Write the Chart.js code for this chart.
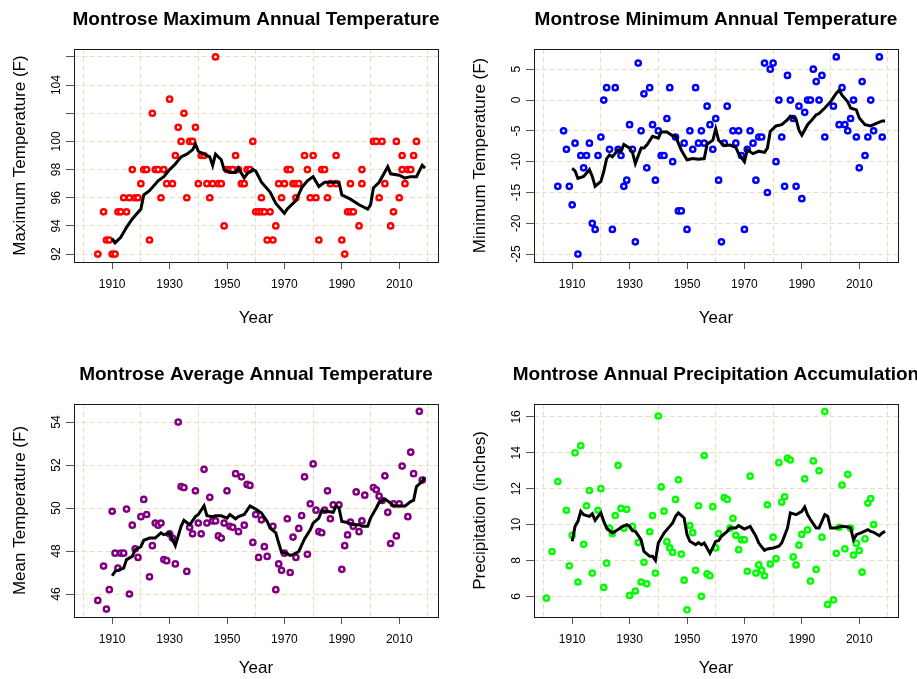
<!DOCTYPE html>
<html>
<head>
<meta charset="utf-8">
<title>Montrose annual climate</title>
<script src="https://cdn.jsdelivr.net/npm/chart.js@4.4.0/dist/chart.umd.min.js"></script>
<style>
  body { margin: 0; background: #fff; }
  #wrap { position: relative; width: 917px; height: 679px; overflow: hidden; }
  canvas { position: absolute; }
</style>
</head>
<body>
<div id="wrap">
  <canvas id="maxChart" width="459" height="340" style="left:0;top:0"></canvas>
  <canvas id="minChart" width="457" height="340" style="left:460px;top:0"></canvas>
  <canvas id="meanChart" width="459" height="339" style="left:0;top:340px"></canvas>
  <canvas id="precipChart" width="457" height="339" style="left:460px;top:340px"></canvas>
</div>
<script>
// x axis: grid every 20 yrs, labelled ticks in between (like the R plot)
var yearGrid = [1900, 1910, 1920, 1930, 1940, 1950, 1960, 1970, 1980, 1990, 2000, 2010, 2020];
var yearLabels = [1910, 1930, 1950, 1970, 1990, 2010];

// ---- maximum temperature ----
var maxYears = [1905, 1907, 1908, 1909, 1910, 1911, 1912, 1913, 1914, 1915, 1916, 1917, 1918, 1919,
    1920, 1921, 1922, 1923, 1924, 1925, 1926, 1927, 1928, 1929,
    1930, 1931, 1932, 1933, 1934, 1935, 1936, 1937, 1938, 1939,
    1940, 1941, 1942, 1943, 1944, 1945, 1946, 1947, 1948, 1949,
    1950, 1951, 1952, 1953, 1954, 1955, 1956, 1957, 1958, 1959,
    1960, 1961, 1962, 1962, 1963, 1964, 1965, 1966, 1967, 1968, 1969,
    1970, 1971, 1972, 1973, 1974, 1974, 1975, 1977, 1978, 1979,
    1980, 1981, 1982, 1983, 1984, 1985, 1986, 1988, 1988,
    1990, 1991, 1992, 1993, 1993, 1994, 1996, 1997, 1997,
    2001, 2002, 2003, 2004, 2005, 2007, 2008, 2009,
    2010, 2011, 2011, 2012, 2013, 2014, 2015, 2016];
var maxTemps = [92, 95, 93, 93, 92, 92, 95, 95, 96, 95, 96, 98, 96, 96,
    97, 98, 98, 93, 102, 98, 98, 96, 98, 97,
    103, 97, 99, 101, 100, 102, 96, 100, 100, 101,
    97, 99, 99, 97, 96, 97, 106, 97, 97, 94,
    98, 98, 98, 99, 98, 97, 97, 98, 98, 100,
    95, 95, 95, 96, 95, 93, 95, 93, 94, 97, 96,
    97, 98, 98, 97, 96, 97, 97, 99, 98, 96,
    99, 96, 93, 98, 98, 96, 97, 97, 99,
    93, 92, 95, 95, 97, 95, 94, 97, 98,
    100, 100, 96, 100, 97, 94, 95, 100,
    96, 99, 98, 97, 98, 98, 99, 100];
var maxAvgYears = [1910, 1911, 1913, 1915, 1917, 1920, 1921, 1923, 1926, 1928, 1930, 1932, 1934, 1936, 1938, 1939,
    1940, 1942, 1944, 1945, 1946, 1948, 1949, 1951, 1953, 1954, 1956, 1957, 1959, 1960, 1962, 1965, 1967,
    1970, 1971, 1974, 1976, 1978, 1980, 1982, 1984, 1987, 1989, 1990, 1993, 1996, 1999,
    2000, 2001, 2003, 2006, 2007, 2010, 2012, 2014, 2016, 2018, 2019];
var maxAvgTemps = [93.1, 92.8, 93.2, 93.9, 94.5, 95.2, 96.2, 96.5, 97.2, 97.5, 98.0, 98.4, 98.9, 99.1, 99.4, 99.8,
    99.3, 99.1, 98.9, 98.3, 99.1, 98.7, 98.0, 97.8, 97.8, 98.1, 97.4, 97.7, 98.0, 97.9, 97.1, 96.4, 95.6,
    94.9, 95.2, 95.8, 96.7, 97.2, 97.5, 96.8, 97.1, 97.1, 97.1, 96.2, 95.9, 95.5, 95.2,
    95.5, 96.7, 97.1, 98.2, 97.7, 97.6, 97.4, 97.5, 97.5, 98.3, 98.1];
var maxGrid = [92, 94, 96, 98, 100, 102, 104, 106];
var maxLabels = [92, 94, 96, 98, 100, 104];

// ---- minimum temperature ----
var minYears = [1905, 1907, 1908, 1909, 1910, 1911, 1912, 1913, 1914, 1915, 1916, 1917, 1918, 1919,
    1920, 1921, 1922, 1923, 1924, 1925, 1926, 1927, 1928, 1929,
    1930, 1931, 1932, 1933, 1934, 1935, 1936, 1937, 1938, 1939,
    1940, 1941, 1942, 1943, 1944, 1945, 1946, 1947, 1948, 1949,
    1950, 1951, 1952, 1953, 1954, 1955, 1956, 1957, 1958, 1959,
    1960, 1961, 1962, 1963, 1964, 1966, 1967, 1968, 1969,
    1970, 1971, 1972, 1973, 1974, 1975, 1976, 1977, 1978, 1979,
    1980, 1981, 1982, 1983, 1984, 1985, 1986, 1987, 1988, 1989,
    1990, 1991, 1992, 1993, 1994, 1995, 1996, 1997, 1998,
    2001, 2002, 2003, 2004, 2005, 2006, 2007, 2008, 2009,
    2010, 2011, 2012, 2013, 2014, 2015, 2017, 2018];
var minTemps = [-14, -5, -8, -14, -17, -7, -25, -9, -11, -9, -7, -20, -21, -9,
    -6, 0, 2, -8, -21, 2, -8, -9, -14, -13,
    -4, -8, -23, 6, -5, 1, -11, 2, -4, -13,
    -5, -9, -9, -3, 2, -10, -6, -18, -18, -7,
    -21, -5, -8, 2, -7, -5, -7, -1, -4, -8,
    -3, -13, -23, -7, -1, -5, -7, -5, -9,
    -21, -8, -5, -7, -13, -6, -6, 6, -15, 5,
    6, -10, 0, -6, -14, 4, 0, -3, -14, -1,
    -16, -2, 0, 0, 5, 3, 0, 4, -6,
    -1, 7, -4, 2, -4, -5, -3, 0, -6,
    -11, 3, -9, -6, 0, -5, 7, -6];
var minAvgYears = [1910, 1911, 1912, 1914, 1916, 1917, 1918, 1920, 1921, 1922, 1923, 1924, 1926, 1927, 1928,
    1930, 1931, 1932, 1934, 1935, 1936, 1938, 1940, 1941, 1943, 1945, 1946, 1948, 1949,
    1950, 1952, 1954, 1956, 1957, 1959, 1960, 1961, 1963, 1965, 1967, 1968,
    1970, 1971, 1973, 1975, 1977, 1978, 1979, 1981, 1983, 1985, 1986, 1988, 1989,
    1990, 1992, 1993, 1995, 1996, 1998, 2000, 2002, 2003, 2004, 2006, 2007, 2009,
    2010, 2012, 2014, 2016, 2018, 2019];
var minAvgTemps = [-11.1, -11.5, -12.7, -12.4, -11.3, -12.4, -14.0, -13.2, -11.6, -9.5, -8.9, -9.2, -8.1, -8.4, -7.2,
    -7.8, -8.5, -10.3, -7.8, -7.8, -7.3, -5.9, -6.2, -5.2, -5.2, -5.8, -5.9, -8.1, -8.9,
    -9.7, -9.5, -9.6, -9.5, -7.2, -6.5, -4.7, -6.5, -7.4, -7.3, -7.7, -8.7,
    -10.0, -8.1, -8.7, -8.3, -8.5, -7.8, -5.1, -4.2, -4.0, -3.2, -2.6, -3.1, -4.9,
    -5.7, -4.0, -3.5, -2.4, -2.2, -1.3, -0.3, 1.1, 1.6, 0.8, -0.3, -1.3, -1.6,
    -2.9, -4.0, -4.2, -3.8, -3.4, -3.4];
var minGrid = [-25, -20, -15, -10, -5, 0, 5];
var minLabels = [-25, -20, -15, -10, -5, 0, 5];

// ---- mean temperature ----
var meanYears = [1905, 1907, 1908, 1909, 1910, 1911, 1912, 1913, 1914, 1915, 1916, 1917, 1918, 1919,
    1920, 1921, 1922, 1923, 1924, 1925, 1926, 1927, 1928, 1929,
    1930, 1931, 1932, 1933, 1934, 1935, 1936, 1937, 1938, 1939,
    1940, 1941, 1942, 1943, 1944, 1945, 1946, 1947, 1948, 1949,
    1950, 1951, 1952, 1953, 1954, 1955, 1956, 1957, 1958, 1959,
    1960, 1961, 1962, 1963, 1964, 1966, 1967, 1968, 1969,
    1970, 1971, 1972, 1973, 1974, 1975, 1976, 1977, 1978, 1979,
    1980, 1981, 1982, 1983, 1984, 1985, 1986, 1987, 1989,
    1990, 1991, 1992, 1993, 1994, 1995, 1996, 1997, 1998,
    2001, 2002, 2003, 2004, 2005, 2006, 2007, 2008, 2009,
    2010, 2011, 2013, 2014, 2015, 2017, 2018];
var meanTemps = [45.7, 47.3, 45.3, 46.2, 49.85, 47.9, 47.2, 47.9, 47.9, 49.95, 46.0, 49.2, 48.1, 47.7,
    49.6, 50.4, 49.7, 46.8, 48.25, 49.3, 49.2, 49.3, 47.6, 47.55,
    48.8, 48.6, 47.4, 54.0, 51.0, 50.95, 47.05, 49.1, 48.8, 50.8,
    49.3, 48.8, 51.8, 49.3, 50.5, 49.4, 49.4, 48.7, 48.6, 49.3,
    50.8, 49.15, 49.1, 51.6, 48.9, 51.45, 49.2, 51.1, 51.05, 48.4,
    49.7, 47.7, 49.45, 48.2, 47.75, 49.15, 46.2, 47.4, 47.1,
    47.9, 49.5, 47.0, 48.65, 47.7, 49.05, 49.65, 51.45, 47.85, 50.2,
    52.05, 49.9, 48.9, 48.85, 49.9, 50.8, 49.5, 50.15, 50.15,
    47.15, 48.25, 48.75, 49.35, 49.15, 50.75, 48.9, 49.4, 50.6,
    50.95, 50.85, 50.55, 50.35, 51.5, 49.8, 48.35, 50.2, 48.7,
    50.2, 51.95, 49.6, 52.6, 51.6, 54.5, 51.3];
var meanAvgYears = [1910, 1911, 1914, 1915, 1917, 1918, 1920, 1921, 1923, 1925, 1927, 1928,
    1930, 1931, 1932, 1934, 1935, 1937, 1939, 1940, 1942, 1943, 1945, 1946, 1948,
    1950, 1951, 1953, 1954, 1956, 1958, 1960, 1962, 1964, 1965, 1967, 1968, 1969,
    1971, 1972, 1973, 1975, 1977, 1979, 1980, 1982, 1983, 1985, 1987, 1988, 1989,
    1990, 1992, 1994, 1996, 1997, 1999, 2000, 2002, 2003, 2005, 2007, 2008,
    2011, 2012, 2014, 2015, 2016, 2018, 2019];
var meanAvgTemps = [46.85, 47.05, 47.2, 47.6, 47.75, 48.06, 48.2, 48.5, 48.6, 48.6, 48.84, 48.76,
    48.84, 48.53, 48.25, 49.15, 49.43, 49.22, 49.6, 49.7, 50.1, 49.64, 49.6, 49.64, 49.64,
    49.53, 49.7, 49.5, 49.6, 49.7, 50.1, 49.95, 49.77, 49.38, 49.07, 48.84, 48.37, 47.94,
    47.88, 47.8, 47.83, 47.98, 48.56, 48.99, 49.3, 49.53, 49.88, 49.84, 49.8, 50.1, 50.0,
    49.38, 49.33, 49.22, 49.22, 49.15, 49.15, 49.53, 50.0, 50.26, 50.42, 50.23, 50.1,
    50.1, 50.1, 50.3, 50.36, 51.0, 51.24, 51.44];
var meanGrid = [46, 48, 50, 52, 54];
var meanLabels = [46, 48, 50, 52, 54];

// ---- precipitation ----
var precipYears = [1901, 1903, 1905, 1908, 1909, 1910, 1911, 1912, 1913, 1914, 1915, 1916, 1917, 1919,
    1920, 1921, 1922, 1923, 1924, 1925, 1926, 1927, 1928, 1929,
    1930, 1931, 1932, 1933, 1934, 1935, 1936, 1937, 1938, 1939,
    1940, 1941, 1942, 1943, 1944, 1945, 1946, 1947, 1948, 1949,
    1950, 1951, 1952, 1953, 1954, 1955, 1956, 1957, 1958, 1959,
    1960, 1961, 1963, 1964, 1965, 1966, 1967, 1968, 1969,
    1970, 1971, 1972, 1974, 1975, 1976, 1977, 1978, 1979,
    1980, 1981, 1982, 1983, 1984, 1985, 1986, 1987, 1988, 1989,
    1990, 1991, 1992, 1993, 1994, 1995, 1996, 1997, 1998, 1999,
    2001, 2002, 2003, 2004, 2005, 2006, 2007, 2008, 2009,
    2010, 2011, 2012, 2013, 2014, 2015];
var precipInches = [5.9, 8.5, 12.4, 10.8, 7.7, 9.4, 14.0, 6.8, 14.4, 8.9, 11.05, 11.9, 7.3, 10.8,
    12.0, 6.5, 7.85, 9.8, 9.5, 10.5, 13.3, 10.9, 9.8, 10.85,
    6.05, 9.9, 6.3, 9.0, 6.8, 7.9, 6.7, 9.6, 10.5, 7.3,
    16.05, 12.1, 10.75, 9.05, 8.7, 8.45, 11.4, 12.5, 8.35, 6.9,
    5.25, 9.95, 9.55, 7.45, 11.05, 6.0, 13.85, 7.25, 7.15, 11.0,
    8.7, 9.5, 11.5, 11.4, 9.8, 10.35, 9.4, 8.6, 9.15,
    9.15, 7.4, 12.7, 7.3, 7.75, 7.45, 7.15, 11.1, 7.8,
    9.3, 8.1, 13.45, 11.25, 11.55, 13.7, 13.6, 8.2, 7.75, 8.85,
    9.45, 12.55, 9.7, 6.85, 13.55, 7.5, 13.0, 9.3, 16.3, 5.55,
    5.8, 8.4, 9.85, 12.2, 8.65, 12.8, 9.8, 8.3, 8.95,
    8.55, 7.35, 9.2, 11.2, 11.45, 10.0];
var precipAvgYears = [1910, 1911, 1912, 1913, 1914, 1916, 1917, 1918, 1919, 1920, 1921, 1922, 1924, 1926, 1927, 1929,
    1930, 1931, 1932, 1934, 1935, 1937, 1938, 1939, 1940, 1942, 1943, 1945, 1946, 1947, 1949,
    1950, 1951, 1953, 1954, 1955, 1956, 1958, 1960, 1961, 1962, 1964, 1965, 1967, 1968,
    1970, 1972, 1974, 1975, 1977, 1978, 1980, 1982, 1983, 1985, 1986, 1988, 1989,
    1990, 1991, 1992, 1993, 1995, 1996, 1998, 1999, 2000, 2002, 2004, 2006, 2007, 2008, 2009,
    2011, 2013, 2014, 2015, 2017, 2018, 2019];
var precipAvgInches = [9.07, 9.9, 10.18, 10.74, 10.55, 10.46, 10.6, 10.24, 10.46, 10.65, 10.18, 9.81, 9.53, 9.72, 9.85, 10.0,
    9.9, 9.66, 9.62, 9.16, 8.5, 8.23, 8.23, 8.0, 8.97, 9.53, 9.72, 10.09, 10.46, 10.65, 10.37,
    9.44, 9.07, 8.88, 9.0, 8.88, 8.97, 8.4, 9.07, 9.1, 9.35, 9.62, 9.81, 9.81, 9.94,
    9.75, 9.9, 9.35, 8.97, 8.56, 8.64, 8.7, 8.79, 8.97, 9.81, 10.65, 10.55, 10.65,
    10.74, 10.98, 10.55, 10.28, 9.81, 9.81, 10.55, 10.46, 9.81, 9.81, 9.9, 9.87, 9.81, 9.16, 9.44,
    9.57, 9.72, 9.62, 9.57, 9.38, 9.53, 9.62];
var precipGrid = [6, 8, 10, 12, 14, 16];
var precipLabels = [6, 8, 10, 12, 14, 16];

var gridColor = '#e9dfc0';
var fontName = '"Liberation Sans", Arial, sans-serif';
Chart.defaults.font.family = fontName;
Chart.defaults.color = '#000';

function toPoints(xs, ys) {
    return xs.map(function(x, i) { return { x: x, y: ys[i] }; });
}

// box round the plot, rotated y tick labels and the bold title
var rPlotBits = {
    id: 'rbits',
    afterDraw: function(chart, args, o) {
        var ctx = chart.ctx, a = chart.chartArea, ys = chart.scales.y;
        ctx.save();
        ctx.strokeStyle = '#1a1a1a';
        ctx.lineWidth = 1;
        ctx.strokeRect(Math.round(a.left) + 0.5, Math.round(a.top) + 0.5,
            Math.round(a.right - a.left), Math.round(a.bottom - a.top));
        ctx.fillStyle = '#000';
        ctx.textAlign = 'center';
        ctx.textBaseline = 'middle';
        ctx.font = '12px ' + fontName;
        o.yLabels.forEach(function(v) {
            ctx.save();
            ctx.translate(a.left - 17, ys.getPixelForValue(v));
            ctx.rotate(-Math.PI / 2);
            ctx.fillText(String(v), 0, 0);
            ctx.restore();
        });
        ctx.font = 'bold 19px ' + fontName;
        ctx.fillText(o.title, (a.left + a.right) / 2, o.titleY);
        ctx.restore();
    }
};

function makePanel(id, p) {
    var canvas = document.getElementById(id);
    var w = canvas.width, h = canvas.height;
    return new Chart(canvas, {
        type: 'scatter',
        data: {
            datasets: [{
                data: toPoints(p.avgX, p.avgY),
                showLine: true,
                borderColor: '#000',
                borderWidth: 3,
                pointRadius: 0,
                tension: 0
            }, {
                data: toPoints(p.xs, p.ys),
                borderColor: p.color,
                backgroundColor: '#fff',
                pointRadius: 2.6,
                pointBorderWidth: 2.5
            }]
        },
        options: {
            responsive: false,
            animation: false,
            layout: { padding: { left: 0, top: p.top, right: w - p.right, bottom: 0 } },
            plugins: {
                legend: { display: false },
                tooltip: { enabled: false },
                rbits: { title: p.title, titleY: p.titleY, yLabels: p.yLabels }
            },
            scales: {
                x: {
                    type: 'linear',
                    min: 1896.7,
                    max: 2023.5,
                    afterBuildTicks: function(s) { s.ticks = yearGrid.map(function(v) { return { value: v }; }); },
                    afterFit: function(s) { s.height = h - p.bottom; },
                    ticks: {
                        autoSkip: false,
                        maxRotation: 0,
                        padding: 8,
                        font: { size: 12 },
                        callback: function(v) { return yearLabels.indexOf(v) >= 0 ? String(v) : ''; }
                    },
                    grid: {
                        color: function(c) { return c.tick && c.tick.value % 20 === 0 ? gridColor : 'rgba(0,0,0,0)'; },
                        tickColor: function(c) { return c.tick && c.tick.value % 20 === 10 ? '#555' : 'rgba(0,0,0,0)'; },
                        tickLength: 7,
                        tickBorderDash: []
                    },
                    border: { display: false, dash: [5, 3] },
                    title: { display: true, text: 'Year', font: { size: 17 }, padding: { top: 0, bottom: p.yearPad } }
                },
                y: {
                    min: p.yMin,
                    max: p.yMax,
                    afterBuildTicks: function(s) { s.ticks = p.yGrid.map(function(v) { return { value: v }; }); },
                    afterFit: function(s) { s.width = p.left; },
                    ticks: { display: false },
                    grid: { color: gridColor, tickColor: '#555', tickLength: 8, tickBorderDash: [] },
                    border: { display: false, dash: [5, 3] },
                    title: { display: true, text: p.yTitle, font: { size: 17 }, padding: { top: 10, bottom: 0 } }
                }
            }
        },
        plugins: [rPlotBits]
    });
}

makePanel('maxChart', {
    xs: maxYears, ys: maxTemps, avgX: maxAvgYears, avgY: maxAvgTemps, color: '#ff0000',
    yMin: 91.44, yMax: 106.56, yGrid: maxGrid, yLabels: maxLabels,
    yTitle: 'Maximum Temperature (F)', title: 'Montrose Maximum Annual Temperature',
    left: 74, right: 438, top: 49, bottom: 262, titleY: 20, yearPad: 11.8
});
makePanel('minChart', {
    xs: minYears, ys: minTemps, avgX: minAvgYears, avgY: minAvgTemps, color: '#0000ff',
    yMin: -26.28, yMax: 8.28, yGrid: minGrid, yLabels: minLabels,
    yTitle: 'Minimum Temperature (F)', title: 'Montrose Minimum Annual Temperature',
    left: 74, right: 438, top: 49, bottom: 262, titleY: 20, yearPad: 11.8
});
makePanel('meanChart', {
    xs: meanYears, ys: meanTemps, avgX: meanAvgYears, avgY: meanAvgTemps, color: '#800080',
    yMin: 44.93, yMax: 54.84, yGrid: meanGrid, yLabels: meanLabels,
    yTitle: 'Mean Temperature (F)', title: 'Montrose Average Annual Temperature',
    left: 74, right: 438, top: 64, bottom: 277, titleY: 35, yearPad: 0.8
});
makePanel('precipChart', {
    xs: precipYears, ys: precipInches, avgX: precipAvgYears, avgY: precipAvgInches, color: '#00ff00',
    yMin: 4.85, yMax: 16.72, yGrid: precipGrid, yLabels: precipLabels,
    yTitle: 'Precipitation (inches)', title: 'Montrose Annual Precipitation Accumulation',
    left: 74, right: 438, top: 64, bottom: 277, titleY: 35, yearPad: 0.8
});
</script>
</body>
</html>
